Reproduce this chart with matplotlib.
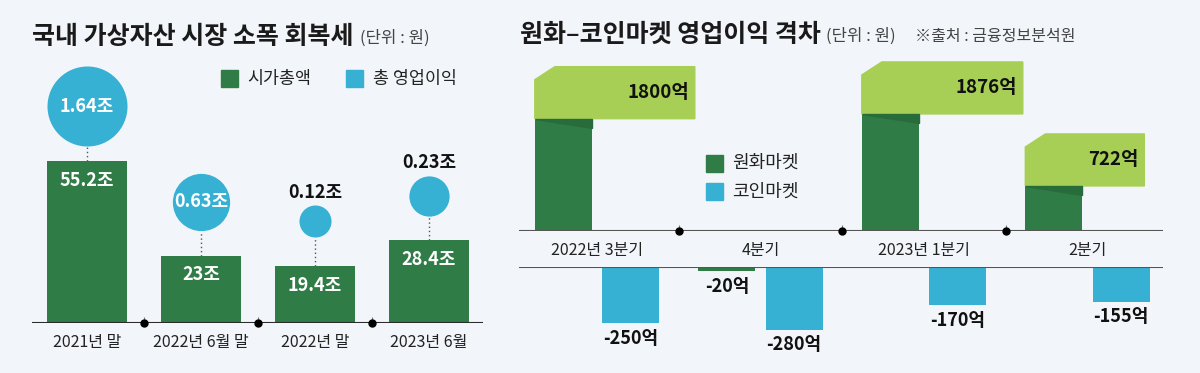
import matplotlib.pyplot as plt
import numpy as np
from matplotlib.patches import Polygon, Rectangle

plt.rcParams['font.family'] = ['Noto Sans CJK KR', 'DejaVu Sans']

# 왼쪽 차트: 국내 가상자산 시장 (조원)
periods = ['2021년 말', '2022년 6월 말', '2022년 말', '2023년 6월']
market_cap = [55.2, 23, 19.4, 28.4]
op_profit = [1.64, 0.63, 0.12, 0.23]

# 오른쪽 차트: 원화마켓 / 코인마켓 영업이익 (억원)
quarters = ['2022년 3분기', '4분기', '2023년 1분기', '2분기']
won_market = [1800, -20, 1876, 722]
coin_market = [-250, -280, -170, -155]

GREEN = '#2f7c46'
DARKG = '#286c3c'
BLUE = '#36b1d3'
LIME = '#a8cf55'
BG = '#f2f5f9'
W, H = 1200, 373

fig = plt.figure(figsize=(W / 100, H / 100), dpi=100)
fig.patch.set_facecolor(BG)


def px_axes(x0, y0, x1, y1):
    ax = fig.add_axes([x0 / W, 1 - y1 / H, (x1 - x0) / W, (y1 - y0) / H])
    ax.axis('off')
    return ax


def fig_text(x, y, s, **kw):
    fig.text(x / W, 1 - y / H, s, va='center', **kw)


def fig_box(x, y, w, h, c):
    fig.add_artist(Rectangle((x / W, 1 - (y + h) / H), w / W, h / H,
                             transform=fig.transFigure, color=c))


# ---------------- left ----------------
axL = px_axes(32, 40, 483, 323)
sp = 114
axL.set_xlim(-55 / sp, 3 + 54 / sp)
axL.set_ylim(0, 96.5)
pxy = 283 / 96.5
x = np.arange(len(periods))

axL.bar(x, market_cap, width=80 / sp, color=GREEN, zorder=2)
axL.axhline(0, color='#2b2b2b', lw=1.5, zorder=3)
for i, v in enumerate(market_cap):
    axL.annotate(f'{v:g}조', xy=(i, v), xytext=(0, -14), textcoords='offset points',
                 ha='center', va='center', color='white', fontsize=13, fontweight='bold')
    axL.annotate(periods[i], xy=(i, 0), xytext=(0, -14), textcoords='offset points',
                 ha='center', va='center', color='#222', fontsize=11.5)

gaps = [15, 25, 29, 24]
for i, (v, p) in enumerate(zip(market_cap, op_profit)):
    r = 40 * (p / 1.64) ** 0.35
    cy = v + (gaps[i] + r) / pxy
    axL.plot([i, i], [v, v + gaps[i] / pxy], ls=(0, (1, 2)), color='#555', lw=1, zorder=1)
    axL.scatter(i, cy, s=(2 * r * 0.72) ** 2, color=BLUE, linewidths=0, zorder=3, clip_on=False)
    if r > 25:
        axL.text(i, cy, f'{p:g}조', ha='center', va='center', color='white',
                 fontsize=13, fontweight='bold', zorder=4)
    else:
        axL.text(i, cy + (r + 13) / pxy, f'{p:g}조', ha='center', va='center',
                 color='#111', fontsize=13, fontweight='bold', zorder=4)

mids = [0.5, 1.5, 2.5]
axL.vlines(mids, 0, 6 / pxy, color='#777', lw=0.8, zorder=3)
axL.scatter(mids, [0, 0, 0], s=25, color='black', zorder=4, clip_on=False)

fig_text(32, 37, '국내 가상자산 시장 소폭 회복세', fontsize=18, fontweight='bold', color='#1a1a1a')
fig_text(360, 38, '(단위 : 원)', fontsize=12, color='#444')
fig_box(221, 70, 17, 17, GREEN)
fig_text(247, 79, '시가총액', fontsize=12.5, color='#222')
fig_box(346, 70, 17, 17, BLUE)
fig_text(373, 79, '총 영업이익', fontsize=12.5, color='#222')

# ---------------- right ----------------
spr = 163.5
c0 = 597
xl = ((519 - c0) / spr, (1163 - c0) / spr)
PX_T = 0.0624
PX_B = 0.224
axT = px_axes(519, 40, 1163, 231)
axT.set_xlim(*xl)
axT.set_ylim(0, 191 / PX_T)
axB = px_axes(519, 267, 1163, 373)
axB.set_xlim(*xl)
axB.set_ylim(-106 / PX_B, 0)

bw = 57 / spr
off = 0.206
xq = np.arange(len(quarters))
won = np.array(won_market)
coin = np.array(coin_market)

pos = won > 0
axT.bar(xq[pos] - off, won[pos], width=bw, color=GREEN, zorder=2)
axB.bar(xq[~pos] - off, won[~pos], width=bw, color=GREEN, zorder=2)
axB.bar(xq + off, coin, width=bw, color=BLUE, zorder=2)

flag_w = [160, 0, 161, 119]
for i, v in enumerate(won_market):
    if v > 0:
        x0 = i - off - bw / 2
        x1 = x0 + flag_w[i] / spr
        y0 = v
        y1 = v + 52 / PX_T
        pts = [(x0, y0), (x1, y0), (x1, y1), (x0 + 20 / spr, y1), (x0, y1 - 13 / PX_T)]
        axT.add_patch(Polygon(pts, closed=True, color=LIME, zorder=3, clip_on=False))
        axT.add_patch(Polygon([(x0, y0), (x0 + bw, y0), (x0 + bw, y0 - 9 / PX_T)],
                              closed=True, color=DARKG, zorder=3))
        axT.text(x1 - 6 / spr, (y0 + y1) / 2, f'{v}억', ha='right', va='center',
                 fontsize=13.5, fontweight='bold', color='#111', zorder=4)
    else:
        axB.annotate(f'{v}억', xy=(i - off, v), xytext=(0, -4), textcoords='offset points',
                     ha='center', va='top', fontsize=13, fontweight='bold', color='#111')

for i, v in enumerate(coin_market):
    axB.annotate(f'{v}억', xy=(i + off, v), xytext=(0, -4), textcoords='offset points',
                 ha='center', va='top', fontsize=13, fontweight='bold', color='#111')

for i, q in enumerate(quarters):
    axT.annotate(q, xy=(i, 0), xytext=(0, -14.4), textcoords='offset points',
                 ha='center', va='center', fontsize=11.5, color='#222')

axT.axhline(0, color='#555', lw=1.5, zorder=3)
axB.axhline(0, color='#555', lw=1.5, zorder=3)
axT.vlines(mids, 0, 6 / PX_T, color='#777', lw=0.8, zorder=3)
axT.scatter(mids, [0, 0, 0], s=25, color='black', zorder=4, clip_on=False)

fig_text(520, 35, '원화–코인마켓 영업이익 격차', fontsize=18, fontweight='bold', color='#1a1a1a')
fig_text(826, 36, '(단위 : 원)', fontsize=12, color='#444')
fig_text(915, 36, '※출처 : 금융정보분석원', fontsize=11.5, color='#444')
fig_box(706, 155, 17, 17, GREEN)
fig_text(732, 163, '원화마켓', fontsize=13, color='#222')
fig_box(706, 183, 17, 17, BLUE)
fig_text(732, 192, '코인마켓', fontsize=13, color='#222')

fig.savefig('out.png', dpi=100, facecolor=BG)
